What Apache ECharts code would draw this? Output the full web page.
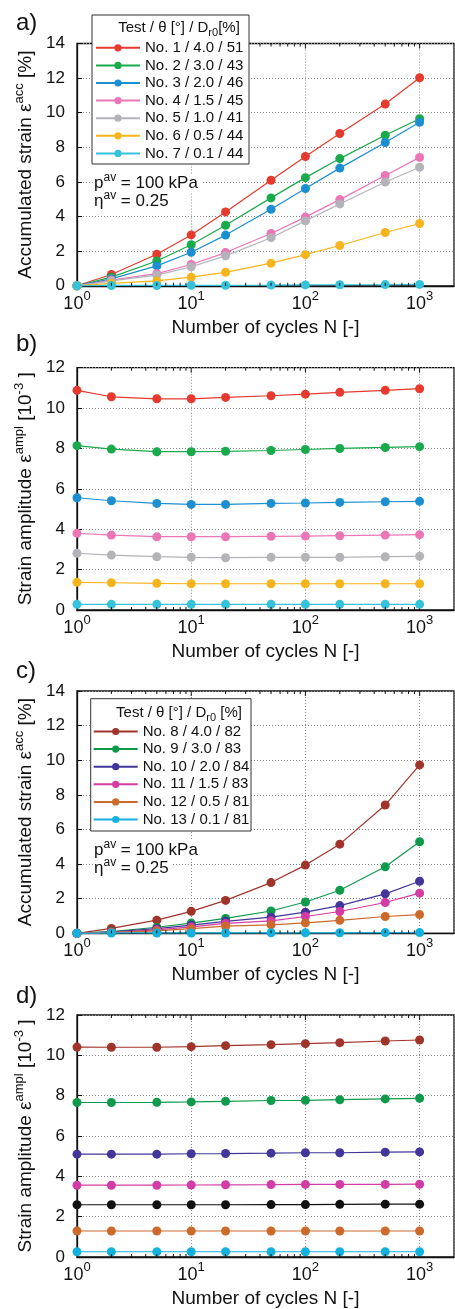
<!DOCTYPE html>
<html>
<head>
<meta charset="utf-8">
<script src="https://cdn.jsdelivr.net/npm/echarts@6/dist/echarts.min.js"></script>
<style>
  html, body { margin: 0; padding: 0; background: #fff; }
  #chart { width: 455px; height: 1309px; }
</style>
</head>
<body>
<div id="chart"></div>
<script>
// cycle numbers where strain was measured
const cycles = [1, 2, 5, 10, 20, 50, 100, 200, 500, 1000];
const minorTicks = [2, 3, 4, 5, 6, 7, 8, 9, 20, 30, 40, 50, 60, 70, 80, 90, 200, 300, 400, 500, 600, 700, 800, 900];
const majorTicks = [10, 100, 1000];

// tests 1-7 (loose sand), panels a) and b)
const namesLoose = ['No. 1 / 4.0 / 51', 'No. 2 / 3.0 / 43', 'No. 3 / 2.0 / 46', 'No. 4 / 1.5 / 45',
  'No. 5 / 1.0 / 41', 'No. 6 / 0.5 / 44', 'No. 7 / 0.1 / 44'];
const colorsLoose = ['#e63a2e', '#19aa4b', '#1b8fd0', '#ec75b6', '#b3b3b9', '#f8b41d', '#36c2da'];
const accLoose = [
  [0, 0.65, 1.82, 2.94, 4.27, 6.10, 7.47, 8.80, 10.50, 12.02],
  [0, 0.50, 1.43, 2.37, 3.50, 5.08, 6.25, 7.35, 8.70, 9.65],
  [0, 0.40, 1.15, 1.94, 2.93, 4.42, 5.62, 6.80, 8.28, 9.45],
  [0, 0.33, 0.70, 1.23, 1.92, 3.02, 3.97, 4.98, 6.37, 7.42],
  [0, 0.28, 0.62, 1.10, 1.73, 2.78, 3.75, 4.73, 6.00, 6.85],
  [0, 0.14, 0.28, 0.50, 0.78, 1.31, 1.80, 2.33, 3.08, 3.60],
  [0, 0.02, 0.02, 0.03, 0.03, 0.04, 0.05, 0.06, 0.07, 0.08]
];
const amplLoose = [
  [10.88, 10.56, 10.46, 10.46, 10.53, 10.61, 10.69, 10.78, 10.88, 10.96],
  [8.14, 7.97, 7.84, 7.84, 7.86, 7.90, 7.95, 8.00, 8.05, 8.09],
  [5.56, 5.41, 5.28, 5.23, 5.23, 5.28, 5.30, 5.33, 5.36, 5.38],
  [3.80, 3.71, 3.63, 3.63, 3.63, 3.65, 3.66, 3.68, 3.71, 3.73],
  [2.81, 2.72, 2.64, 2.61, 2.59, 2.61, 2.61, 2.61, 2.64, 2.66],
  [1.37, 1.35, 1.32, 1.30, 1.30, 1.30, 1.30, 1.30, 1.30, 1.30],
  [0.28, 0.28, 0.28, 0.28, 0.28, 0.28, 0.28, 0.28, 0.28, 0.28]
];

// tests 8-13 (dense sand), panels c) and d)
const namesDense = ['No. 8 / 4.0 / 82', 'No. 9 / 3.0 / 83', 'No. 10 / 2.0 / 84', 'No. 11 / 1.5 / 83',
  'No. 12 / 0.5 / 81', 'No. 13 / 0.1 / 81'];
const colorsDense = ['#a1342a', '#0f9a4b', '#42369a', '#d33ca4', '#cc6a2b', '#15b1de'];
const accDense = [
  [0, 0.28, 0.76, 1.27, 1.90, 2.93, 3.94, 5.15, 7.41, 9.73],
  [0, 0.10, 0.35, 0.59, 0.86, 1.29, 1.81, 2.49, 3.84, 5.29],
  [0, 0.08, 0.27, 0.47, 0.69, 0.93, 1.22, 1.60, 2.28, 3.01],
  [0, 0.06, 0.20, 0.37, 0.57, 0.72, 0.97, 1.26, 1.78, 2.32],
  [0, 0.04, 0.14, 0.27, 0.41, 0.49, 0.60, 0.75, 0.97, 1.08],
  [0, 0.02, 0.02, 0.02, 0.02, 0.03, 0.03, 0.03, 0.04, 0.04]
];
const amplDense = [
  [10.41, 10.40, 10.40, 10.43, 10.48, 10.53, 10.58, 10.63, 10.71, 10.76],
  [7.66, 7.66, 7.67, 7.69, 7.72, 7.76, 7.77, 7.80, 7.84, 7.87],
  [5.10, 5.10, 5.10, 5.12, 5.13, 5.15, 5.17, 5.17, 5.20, 5.21],
  [3.56, 3.56, 3.56, 3.57, 3.58, 3.59, 3.60, 3.60, 3.60, 3.61],
  [1.29, 1.29, 1.29, 1.29, 1.29, 1.29, 1.29, 1.29, 1.29, 1.29],
  [0.26, 0.26, 0.26, 0.26, 0.26, 0.26, 0.26, 0.26, 0.26, 0.26]
];
// black curve in d) without legend entry
const amplBlack = [2.59, 2.59, 2.59, 2.59, 2.59, 2.60, 2.60, 2.61, 2.62, 2.62];

const FONT = 'Liberation Sans, Arial, Helvetica, sans-serif';
const INK = '#111';
const yMaxes = [14, 12, 14, 12];

const rich = {
  n: { fontSize: 19, lineHeight: 20, verticalAlign: 'bottom', color: INK, fontFamily: FONT },
  s: { fontSize: 13, lineHeight: 13, verticalAlign: 'bottom', padding: [0, 0, 9, 0], color: INK, fontFamily: FONT }
};
const accName = '{n|Accumulated strain ε}{s|acc}{n| [%]}';
const amplName = '{n|Strain amplitude ε}{s|ampl}{n| [10}{s|-3}{n| ]}';

const grids = [43.5, 367.7, 691, 1015].map((top) => ({
  left: 77, top: top, width: 377, height: 242.3,
  show: true, borderColor: INK, borderWidth: 1.3, backgroundColor: 'transparent'
}));

const gridLine = { show: true, lineStyle: { color: '#8a8a8a', type: [1, 2], width: 1 } };

const xAxes = grids.map((g, i) => ({
  type: 'log', gridIndex: i, min: 1, max: 2000, logBase: 10,
  name: 'Number of cycles N [-]', nameLocation: 'middle', nameGap: 32,
  nameTextStyle: { fontSize: 19, color: INK, fontFamily: FONT },
  axisLine: { show: true, lineStyle: { color: INK, width: 1.3 } },
  axisTick: { show: true, inside: true, length: 5, lineStyle: { color: INK } },
  axisLabel: {
    margin: 9, showMaxLabel: false, color: INK,
    formatter: (v) => '{b|10}{e|' + Math.round(Math.log10(v)) + '}',
    rich: {
      b: { fontSize: 18, lineHeight: 18, verticalAlign: 'bottom', color: INK, fontFamily: FONT },
      e: { fontSize: 13, lineHeight: 13, verticalAlign: 'bottom', padding: [0, 0, 10, 0], color: INK, fontFamily: FONT }
    }
  },
  splitLine: gridLine
}));

const yAxes = grids.map((g, i) => ({
  type: 'value', gridIndex: i, min: 0, max: yMaxes[i], interval: 2,
  name: i % 2 === 0 ? accName : amplName, nameLocation: 'middle', nameGap: 42, nameRotate: 90,
  nameTextStyle: { rich: rich },
  axisLine: { show: true, lineStyle: { color: INK, width: 1.3 } },
  axisTick: { show: true, inside: true, length: 5, lineStyle: { color: INK } },
  axisLabel: { fontSize: 17, margin: 12, color: INK, fontFamily: FONT },
  splitLine: gridLine
}));

function lineSeries(name, values, color, idx) {
  return {
    type: 'line', name: name, xAxisIndex: idx, yAxisIndex: idx,
    data: cycles.map((n, k) => [n, values[k]]),
    symbol: 'circle', symbolSize: 9, showSymbol: true,
    lineStyle: { color: color, width: 1.2 },
    itemStyle: { color: color },
    emphasis: { disabled: true }, animation: false, z: 3
  };
}

function tickSeries(idx) {
  const ymax = yMaxes[idx];
  const ticks = minorTicks.map((n) => [n, 0, 3]).concat(majorTicks.map((n) => [n, 0, 5]));
  return {
    type: 'custom', xAxisIndex: idx, yAxisIndex: idx, silent: true, clip: false, animation: false, z: 4,
    data: ticks,
    renderItem: (params, api) => {
      const len = api.value(2);
      const b = api.coord([api.value(0), 0]);
      const t = api.coord([api.value(0), ymax]);
      const kids = [{ type: 'line', shape: { x1: t[0], y1: t[1], x2: t[0], y2: t[1] + len }, style: { stroke: INK, lineWidth: 1 } }];
      if (len < 5) kids.push({ type: 'line', shape: { x1: b[0], y1: b[1], x2: b[0], y2: b[1] - len }, style: { stroke: INK, lineWidth: 1 } });
      return { type: 'group', children: kids };
    }
  };
}

const series = [];
namesLoose.forEach((nm, k) => series.push(lineSeries(nm, accLoose[k], colorsLoose[k], 0)));
namesLoose.forEach((nm, k) => series.push(lineSeries(nm, amplLoose[k], colorsLoose[k], 1)));
namesDense.forEach((nm, k) => series.push(lineSeries(nm, accDense[k], colorsDense[k], 2)));
namesDense.forEach((nm, k) => {
  if (k === 4) series.push(lineSeries('black', amplBlack, '#111111', 3));
  series.push(lineSeries(nm, amplDense[k], colorsDense[k], 3));
});
[0, 1, 2, 3].forEach((i) => series.push(tickSeries(i)));

function legendFor(names, left, top, padLeft) {
  return {
    data: names, orient: 'vertical', left: left, top: top, padding: [24, 0, 0, padLeft],
    itemWidth: 44, itemHeight: 9, itemGap: 0, selectedMode: false, z: 200,
    textStyle: { fontSize: 15, lineHeight: 17.6, color: INK, fontFamily: FONT }
  };
}

const titleRich = {
  n: { fontSize: 15, lineHeight: 16, verticalAlign: 'top', fill: INK, fontFamily: FONT },
  d: { fontSize: 11, lineHeight: 11, verticalAlign: 'top', padding: [7, 0, 0, 0], fill: INK, fontFamily: FONT }
};
const noteRich = {
  n: { fontSize: 17, lineHeight: 18, verticalAlign: 'bottom', fill: INK, fontFamily: FONT },
  s: { fontSize: 12, lineHeight: 12, verticalAlign: 'bottom', padding: [0, 0, 8, 0], fill: INK, fontFamily: FONT }
};

function legendBox(x, y, w, h, title, tx, ty) {
  return [
    { type: 'rect', z: 100, shape: { x: x, y: y, width: w, height: h }, style: { fill: '#fff', stroke: '#333', lineWidth: 1 } },
    { type: 'text', z: 101, x: tx, y: ty, style: { text: title, rich: titleRich, align: 'center', verticalAlign: 'middle' } }
  ];
}
function note(x, y, text) {
  return { type: 'text', z: 101, x: x, y: y, style: { text: text, rich: noteRich, align: 'left', verticalAlign: 'middle', backgroundColor: '#fff', padding: [0, 4, 0, 0] } };
}
function panelLabel(y, t) {
  return { type: 'text', z: 101, x: 16, y: y, style: { text: t, fontSize: 24, fontFamily: FONT, fill: INK, verticalAlign: 'middle' } };
}

const graphics = [].concat(
  legendBox(92, 15, 157, 149, '{n|Test / θ [°] / D}{d|r0}{n|[%]}', 179, 28),
  legendBox(90.7, 698.7, 160.3, 132.3, '{n|Test / θ [°] / D}{d|r0}{n| [%]}', 179, 713),
  [
    note(94, 183, '{n|p}{s|av}{n| = 100 kPa}'),
    note(94, 201, '{n|η}{s|av}{n| = 0.25}'),
    note(94, 850, '{n|p}{s|av}{n| = 100 kPa}'),
    note(94, 868, '{n|η}{s|av}{n| = 0.25}'),
    panelLabel(23, 'a)'), panelLabel(344, 'b)'), panelLabel(671, 'c)'), panelLabel(996, 'd)')
  ]
);

const chart = echarts.init(document.getElementById('chart'), null, { renderer: 'canvas' });
chart.setOption({
  backgroundColor: '#fff',
  animation: false,
  textStyle: { fontFamily: FONT },
  grid: grids,
  xAxis: xAxes,
  yAxis: yAxes,
  legend: [legendFor(namesLoose, 92, 15, 3), legendFor(namesDense, 90.7, 698.7, 2)],
  graphic: { elements: graphics },
  series: series
});
</script>
</body>
</html>
